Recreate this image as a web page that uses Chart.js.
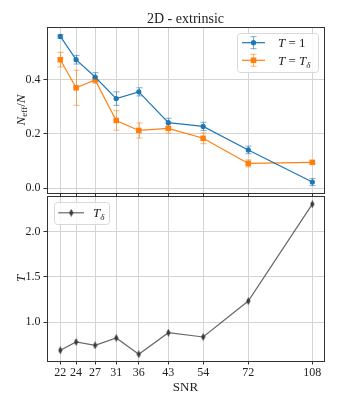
<!DOCTYPE html>
<html>
<head>
<meta charset="utf-8">
<script src="https://cdn.jsdelivr.net/npm/chart.js@4.4.1/dist/chart.umd.min.js"></script>
<style>
  body { margin: 0; background: #fff; }
  #wrap { position: relative; width: 338px; height: 405px; }
  #wrap canvas { position: absolute; left: 0; }
</style>
</head>
<body>
<div id="wrap">
  <canvas id="top-chart" width="338" height="196" style="top:0"></canvas>
  <canvas id="bottom-chart" width="338" height="212" style="top:193px"></canvas>
</div>
<script>
// SNR of each run (log axis) and the labels printed under them
const snr = [21.9, 24.2, 27.3, 31.2, 36, 43.4, 54.1, 72, 108];
const snrLabels = ['22', '24', '27', '31', '36', '43', '54', '72', '108'];

// N_eff / N for T = 1 and T = T_delta, with their error bars
const neffT1 = [0.561, 0.475, 0.411, 0.331, 0.356, 0.242, 0.228, 0.141, 0.022];
const errT1 = [0.007, 0.016, 0.016, 0.025, 0.015, 0.016, 0.015, 0.014, 0.013];
const neffTd = [0.475, 0.371, 0.400, 0.250, 0.213, 0.221, 0.184, 0.091, 0.095];
const errTd = [0.027, 0.065, 0.012, 0.036, 0.028, 0.018, 0.020, 0.013, 0.005];

// T_delta per SNR
const tDelta = [0.688, 0.780, 0.743, 0.824, 0.644, 0.882, 0.835, 1.231, 2.300];

// tick values
const neffTicks = [0.0, 0.2, 0.4];
const tTicks = [1.0, 1.5, 2.0];

const SERIF = '"Liberation Serif", "DejaVu Serif", serif';
const BLUE = '#1f77b4';
const ORANGE = '#ff7f0e';
const GRID = '#d4d4d4';
const FRAME = '#333333';

// draws a small piece of math text, parts = [{t, it, sub}]
function drawMath(ctx, parts, x, y, size, align) {
    const fontOf = p => (p.it ? 'italic ' : '') + (p.sub ? size * 0.7 : size) + 'px ' + SERIF;
    let w = 0;
    parts.forEach(p => { ctx.font = fontOf(p); w += ctx.measureText(p.t).width; });
    let cx = align === 'center' ? x - w / 2 : x;
    ctx.textAlign = 'left';
    ctx.textBaseline = 'alphabetic';
    parts.forEach(p => {
        ctx.font = fontOf(p);
        ctx.fillText(p.t, cx, y + (p.sub ? size * 0.22 : 0));
        cx += ctx.measureText(p.t).width;
    });
}

// thin diamond marker like matplotlib 'd'
function thinDiamond(color) {
    const c = document.createElement('canvas');
    c.width = 5; c.height = 8;
    const g = c.getContext('2d');
    g.fillStyle = color;
    g.beginPath();
    g.moveTo(2.5, 0); g.lineTo(4.6, 4); g.lineTo(2.5, 8); g.lineTo(0.4, 4);
    g.closePath();
    g.fill();
    return c;
}
const diamond = thinDiamond('#3a3a3a');

function drawErrBar(ctx, px, top, bot) {
    ctx.beginPath();
    ctx.moveTo(px, top); ctx.lineTo(px, bot);
    ctx.moveTo(px - 3, top); ctx.lineTo(px + 3, top);
    ctx.moveTo(px - 3, bot); ctx.lineTo(px + 3, bot);
    ctx.stroke();
}

function legendBox(ctx, x, y, w, h) {
    ctx.save();
    ctx.fillStyle = 'rgba(255,255,255,0.8)';
    ctx.strokeStyle = '#d8d8d8';
    ctx.lineWidth = 1;
    ctx.beginPath();
    ctx.roundRect(x + 0.5, y + 0.5, w, h, 3);
    ctx.fill();
    ctx.stroke();
    ctx.restore();
}

// error bars, drawn through the chart's own scales
const errorBarPlugin = {
    id: 'errorBars',
    beforeDatasetsDraw(chart) {
        const ctx = chart.ctx, xs = chart.scales.x, ys = chart.scales.y;
        chart.data.datasets.forEach(ds => {
            if (!ds.errorBars) return;
            ctx.save();
            ctx.strokeStyle = ds.errorColor;
            ctx.lineWidth = 1;
            ds.data.forEach((p, i) => {
                const px = Math.round(xs.getPixelForValue(p.x)) + 0.5;
                drawErrBar(ctx, px,
                    ys.getPixelForValue(p.y + ds.errorBars[i]),
                    ys.getPixelForValue(p.y - ds.errorBars[i]));
            });
            ctx.restore();
        });
    }
};

// full box round the plot area
const framePlugin = {
    id: 'frame',
    afterDraw(chart) {
        const a = chart.chartArea, ctx = chart.ctx;
        ctx.save();
        ctx.strokeStyle = FRAME;
        ctx.lineWidth = 1;
        ctx.strokeRect(Math.round(a.left) + 0.5, Math.round(a.top) + 0.5,
            Math.round(a.right - a.left), Math.round(a.bottom - a.top));
        ctx.restore();
    }
};

// title, y label and legend of the upper panel
const topDecor = {
    id: 'topDecor',
    afterDraw(chart) {
        const ctx = chart.ctx, a = chart.chartArea;
        ctx.save();
        ctx.fillStyle = '#222';
        ctx.font = '14px ' + SERIF;
        ctx.textAlign = 'center';
        ctx.textBaseline = 'middle';
        ctx.fillText('2D - extrinsic', (a.left + a.right) / 2, 19);

        ctx.translate(20, (a.top + a.bottom) / 2);
        ctx.rotate(-Math.PI / 2);
        drawMath(ctx, [{ t: 'N', it: true }, { t: 'eff', sub: true }, { t: '/', it: false }, { t: 'N', it: true }], 0, 4.5, 13, 'center');
        ctx.restore();

        legendBox(ctx, 237, 33, 81, 39);
        ctx.save();
        ctx.lineWidth = 1.2;
        // T = 1
        ctx.strokeStyle = BLUE;
        ctx.beginPath(); ctx.moveTo(242, 42.7); ctx.lineTo(265, 42.7); ctx.stroke();
        ctx.strokeStyle = 'rgba(31,119,180,0.6)';
        ctx.lineWidth = 1;
        drawErrBar(ctx, 253.5, 36.7, 48.7);
        ctx.fillStyle = BLUE;
        ctx.beginPath(); ctx.arc(253.5, 42.7, 2.6, 0, Math.PI * 2); ctx.fill();
        // T = T_delta
        ctx.lineWidth = 1.2;
        ctx.strokeStyle = ORANGE;
        ctx.beginPath(); ctx.moveTo(242, 60.3); ctx.lineTo(265, 60.3); ctx.stroke();
        ctx.strokeStyle = 'rgba(255,127,14,0.6)';
        ctx.lineWidth = 1;
        drawErrBar(ctx, 253.5, 54.3, 66.3);
        ctx.fillStyle = ORANGE;
        ctx.fillRect(250.7, 57.5, 5.6, 5.6);

        ctx.fillStyle = '#222';
        drawMath(ctx, [{ t: 'T', it: true }, { t: ' = 1' }], 278, 47.2, 13);
        drawMath(ctx, [{ t: 'T', it: true }, { t: ' = ' }, { t: 'T', it: true }, { t: 'δ', it: true, sub: true }], 278, 64.8, 13);
        ctx.restore();
    }
};

// y label and legend of the lower panel
const bottomDecor = {
    id: 'bottomDecor',
    afterDraw(chart) {
        const ctx = chart.ctx, a = chart.chartArea;
        ctx.save();
        ctx.fillStyle = '#222';
        ctx.translate(20, (a.top + a.bottom) / 2);
        ctx.rotate(-Math.PI / 2);
        drawMath(ctx, [{ t: 'T', it: true }], 0, 4.5, 13, 'center');
        ctx.restore();

        legendBox(ctx, 54, 9, 55, 22);
        ctx.save();
        ctx.strokeStyle = 'rgba(0,0,0,0.6)';
        ctx.lineWidth = 1.2;
        ctx.beginPath(); ctx.moveTo(58.3, 19.8); ctx.lineTo(84, 19.8); ctx.stroke();
        ctx.drawImage(diamond, 71.2 - 2.5, 19.8 - 4);
        ctx.fillStyle = '#222';
        drawMath(ctx, [{ t: 'T', it: true }, { t: 'δ', it: true, sub: true }], 93, 24.3, 13);
        ctx.restore();
    }
};

const tickFont = { family: SERIF, size: 12 };

// no label overhang padding, so the plot area sits where it is told
function noOverhang(s) {
    s.paddingTop = 0;
    s.paddingBottom = 0;
    s.paddingLeft = 0;
    s.paddingRight = 0;
}

function xAxis(showLabels, height) {
    return {
        type: 'logarithmic',
        min: 20.13,
        max: 116.3,
        afterBuildTicks: s => { s.ticks = snr.map(v => ({ value: v })); },
        afterFit: s => { s.height = height; noOverhang(s); },
        ticks: {
            display: showLabels,
            autoSkip: false,
            maxRotation: 0,
            padding: 1,
            color: '#222',
            font: tickFont,
            callback: (v, i) => snrLabels[i]
        },
        grid: { color: GRID, tickColor: FRAME, tickLength: 3.5 },
        border: { display: false },
        title: {
            display: showLabels,
            text: 'SNR',
            color: '#222',
            font: { family: SERIF, size: 13 },
            padding: { top: 0, bottom: 10 }
        }
    };
}

function yAxis(min, max, ticks) {
    return {
        min: min,
        max: max,
        afterBuildTicks: s => { s.ticks = ticks.map(v => ({ value: v })); },
        afterFit: s => { s.width = 47; noOverhang(s); },
        ticks: {
            padding: 3,
            color: '#222',
            font: tickFont,
            callback: v => Number(v).toFixed(1)
        },
        grid: { color: GRID, tickColor: FRAME, tickLength: 3.5 },
        border: { display: false }
    };
}

const commonPlugins = {
    legend: { display: false },
    tooltip: { enabled: false },
    title: { display: false }
};

new Chart(document.getElementById('top-chart'), {
    type: 'line',
    data: {
        datasets: [
            {
                label: 'T = 1',
                data: snr.map((x, i) => ({ x: x, y: neffT1[i] })),
                errorBars: errT1,
                errorColor: 'rgba(31,119,180,0.6)',
                borderColor: BLUE,
                borderWidth: 1.2,
                pointStyle: 'circle',
                pointRadius: 2.6,
                pointBackgroundColor: BLUE,
                pointBorderColor: BLUE,
                pointBorderWidth: 0,
                tension: 0
            },
            {
                label: 'T = T_δ',
                data: snr.map((x, i) => ({ x: x, y: neffTd[i] })),
                errorBars: errTd,
                errorColor: 'rgba(255,127,14,0.6)',
                borderColor: ORANGE,
                borderWidth: 1.2,
                pointStyle: 'rect',
                pointRadius: 3.9,
                pointBackgroundColor: ORANGE,
                pointBorderColor: ORANGE,
                pointBorderWidth: 0,
                tension: 0
            }
        ]
    },
    options: {
        responsive: false,
        animation: false,
        layout: { autoPadding: false, padding: { left: 0, right: 14, top: 27, bottom: 0 } },
        scales: {
            x: xAxis(false, 3),
            y: yAxis(-0.0185, 0.596, neffTicks)
        },
        plugins: commonPlugins
    },
    plugins: [errorBarPlugin, framePlugin, topDecor]
});

new Chart(document.getElementById('bottom-chart'), {
    type: 'line',
    data: {
        datasets: [{
            label: 'T_δ',
            data: snr.map((x, i) => ({ x: x, y: tDelta[i] })),
            borderColor: 'rgba(0,0,0,0.6)',
            borderWidth: 1.2,
            pointStyle: diamond,
            tension: 0
        }]
    },
    options: {
        responsive: false,
        animation: false,
        layout: { autoPadding: false, padding: { left: 0, right: 14, top: 3, bottom: 0 } },
        scales: {
            x: xAxis(true, 44),
            y: yAxis(0.57, 2.39, tTicks)
        },
        plugins: commonPlugins
    },
    plugins: [framePlugin, bottomDecor]
});
</script>
</body>
</html>
